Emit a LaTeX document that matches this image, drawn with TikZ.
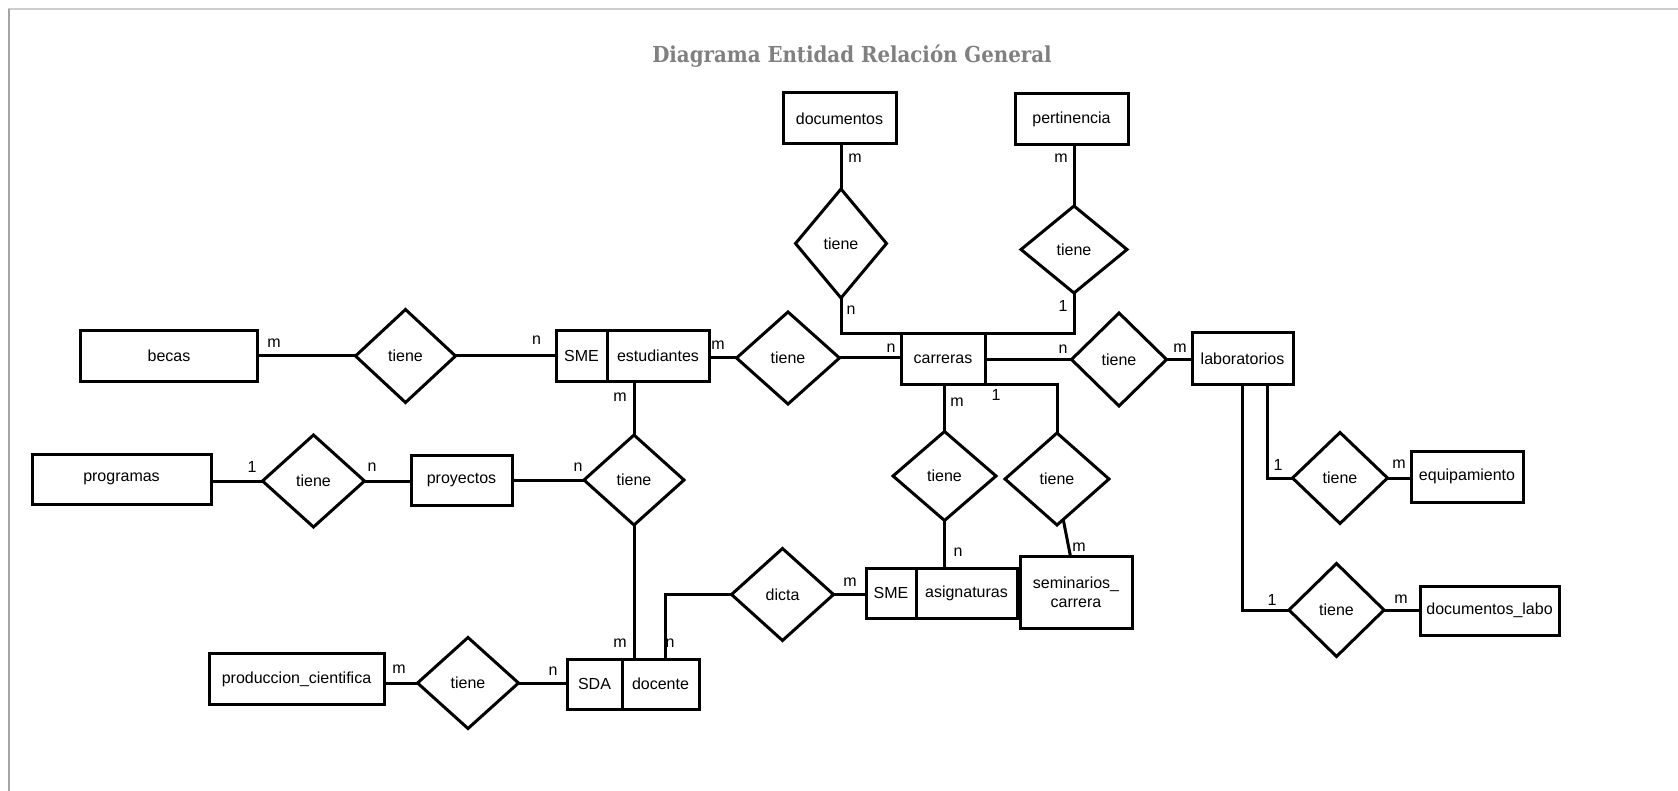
\documentclass[tikz,border=0pt]{standalone}
\usepackage{fontspec}
\setmainfont{Liberation Sans}
\newfontfamily\titlefont{DejaVu Serif Condensed}
\usetikzlibrary{shapes.geometric,calc}

\begin{document}
\begin{tikzpicture}[x=1pt,y=-1pt,
  ent/.style={draw,line width=3pt,rectangle,inner sep=0pt,outer sep=0pt,
    align=center,font=\fontsize{16}{19}\selectfont},
  rel/.style={draw,line width=3pt,diamond,inner sep=0pt,outer sep=0pt,
    font=\fontsize{16}{19}\selectfont},
  card/.style={inner sep=0pt,font=\fontsize{16}{19}\selectfont},
  link/.style={line width=3pt},
  frameline/.style={line width=2pt}]

% page and frame
\fill[white] (0,0) rectangle (1678,791);
\useasboundingbox (0,0) rectangle (1678,791);
\draw[frameline,color={rgb,255:red,205;green,205;blue,205}] (8,9) -- (1678,9);
\draw[frameline,color={rgb,255:red,165;green,165;blue,165}] (9,9) -- (9,791);

% title
\node[inner sep=0pt,text={rgb,255:red,128;green,128;blue,128},
  font=\titlefont\bfseries\fontsize{22}{26}\selectfont] (title) at (852,56)
  {Diagrama Entidad Relación General};

% entities
\node[ent,minimum width=113,minimum height=51] (documentos) at (839.5,118.5) {documentos};
\node[ent,minimum width=113,minimum height=51] (pertinencia) at (1071.5,119) {pertinencia};
\node[ent,minimum width=177,minimum height=50] (becas) at (169,356) {becas};
\node[ent,minimum width=51,minimum height=50] (sme1) at (581.5,356) {SME};
\node[ent,minimum width=102,minimum height=50] (estud) at (658,356) {estudiantes};
\node[ent,minimum width=84,minimum height=50] (carreras) at (943,359) {carreras};
\node[ent,minimum width=101,minimum height=51] (lab) at (1242.5,358.5) {laboratorios};
\node[ent,minimum width=179,minimum height=50] (prog) at (121.5,479) {programas};
\node[ent,minimum width=101,minimum height=50] (proy) at (461.5,480) {proyectos};
\node[ent,minimum width=112,minimum height=51] (equip) at (1467,476.5) {equipamiento};
\node[ent,minimum width=112,minimum height=72] (sem) at (1076,592) {seminarios\_\\carrera};
\node[ent,minimum width=50,minimum height=50] (sme2) at (891,593) {SME};
\node[ent,minimum width=101,minimum height=50] (asig) at (966.5,593) {asignaturas};
\node[ent,minimum width=139,minimum height=49] (doclabo) at (1489.5,610.5) {documentos\_labo};
\node[ent,minimum width=175,minimum height=51] (prod) at (296.5,679) {produccion\_cientifica};
\node[ent,minimum width=55,minimum height=50] (sda) at (594.5,684) {SDA};
\node[ent,minimum width=77,minimum height=50] (docente) at (660.5,684) {docente};

% relationships
\node[rel,minimum width=91,minimum height=109] (r_doc) at (841,243.5) {tiene};
\node[rel,minimum width=106,minimum height=87] (r_pert) at (1074,249.5) {tiene};
\node[rel,minimum width=100,minimum height=93] (r_becas) at (405.5,356) {tiene};
\node[rel,minimum width=103,minimum height=92] (r_estcar) at (788,358) {tiene};
\node[rel,minimum width=95,minimum height=93] (r_carlab) at (1119,359.5) {tiene};
\node[rel,minimum width=102,minimum height=92] (r_prog) at (313.5,481) {tiene};
\node[rel,minimum width=100,minimum height=90] (r_estdoc) at (634,480) {tiene};
\node[rel,minimum width=103,minimum height=89] (r_asig) at (944.5,476) {tiene};
\node[rel,minimum width=104,minimum height=92] (r_sem) at (1057,479) {tiene};
\node[rel,minimum width=95,minimum height=91] (r_equip) at (1340,478) {tiene};
\node[rel,minimum width=102,minimum height=92] (r_dicta) at (782.5,594.5) {dicta};
\node[rel,minimum width=95,minimum height=93] (r_doclabo) at (1336.5,610) {tiene};
\node[rel,minimum width=101,minimum height=91] (r_prod) at (468,683) {tiene};

% connectors
\draw[link] (documentos.south -| r_doc.north) -- (r_doc.north);
\draw[link] (r_doc.south) |- (carreras.north -| r_pert.south) -- (r_pert.south);
\draw[link] (pertinencia.south -| r_pert.north) -- (r_pert.north);
\draw[link] (becas.east) -- (r_becas.west) (r_becas.east) -- (sme1.west);
\draw[link] (estud.east |- r_estcar.west) -- (r_estcar.west)
  (r_estcar.east) -- (carreras.west |- r_estcar.east);
\draw[link] (carreras.east |- r_carlab.west) -- (r_carlab.west)
  (r_carlab.east) -- (lab.west |- r_carlab.east);
\draw[link] (estud.south -| r_estdoc.north) -- (r_estdoc.north)
  (r_estdoc.south) -- (docente.north -| r_estdoc.south);
\draw[link] (prog.east |- r_prog.west) -- (r_prog.west)
  (r_prog.east) -- (proy.west |- r_prog.east)
  (proy.east |- r_estdoc.west) -- (r_estdoc.west);
\draw[link] (carreras.south -| r_asig.north) -- (r_asig.north)
  (r_asig.south) -- (asig.north -| r_asig.south);
\draw[link] (carreras.south east) -| (r_sem.north);
\draw[link] ($(r_sem.south)!0.12!(r_sem.east)$) -- ($(sem.north west)!0.45!(sem.north east)$);
\draw[link] ($(lab.south)!0.5!(lab.south east)$) |- (r_equip.west);
\draw[link] (lab.south) |- (r_doclabo.west);
\draw[link] (r_equip.east) -- (equip.west |- r_equip.east);
\draw[link] (r_doclabo.east) -- (doclabo.west |- r_doclabo.east);
\draw[link] (r_dicta.east) -- (sme2.west |- r_dicta.east);
\draw[link] (r_dicta.west) -| ($(docente.north)+(5,0)$);
\draw[link] (prod.east |- r_prod.west) -- (r_prod.west)
  (r_prod.east) -- (sda.west |- r_prod.east);

% cardinalities
\node[card] (c1) at (855,158) {m};
\node[card] (c2) at (851,310) {n};
\node[card] (c3) at (1061,158) {m};
\node[card] (c4) at (1063,306) {1};
\node[card] (c5) at (274,343) {m};
\node[card] (c6) at (536.5,340) {n};
\node[card] (c7) at (718,345) {m};
\node[card] (c8) at (891,348) {n};
\node[card] (c9) at (1063,349) {n};
\node[card] (c10) at (1180,348) {m};
\node[card] (c11) at (620,397) {m};
\node[card] (c12) at (252,467) {1};
\node[card] (c13) at (372,467) {n};
\node[card] (c14) at (578,467) {n};
\node[card] (c15) at (957,402) {m};
\node[card] (c16) at (996,395) {1};
\node[card] (c17) at (958,552) {n};
\node[card] (c18) at (1079,547) {m};
\node[card] (c19) at (1278,465) {1};
\node[card] (c20) at (1399,464) {m};
\node[card] (c21) at (1272,600) {1};
\node[card] (c22) at (1401,599) {m};
\node[card] (c23) at (850,582) {m};
\node[card] (c24) at (670,643) {n};
\node[card] (c25) at (620,643) {m};
\node[card] (c26) at (399,669) {m};
\node[card] (c27) at (553,671) {n};
\end{tikzpicture}
\end{document}
